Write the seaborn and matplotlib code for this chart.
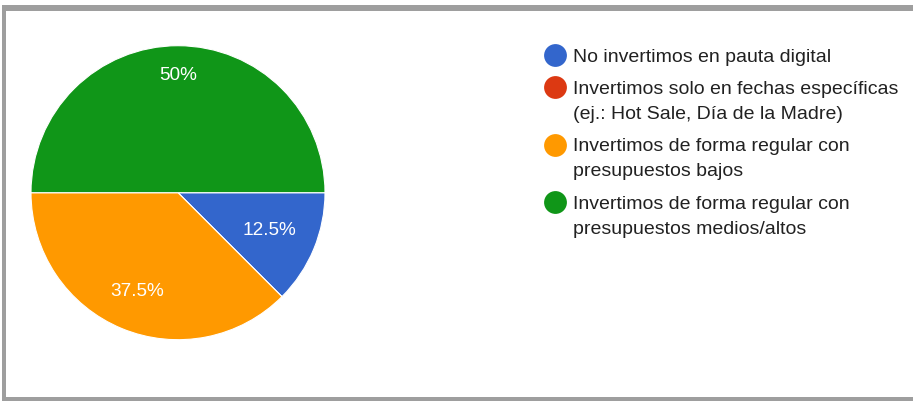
import matplotlib
matplotlib.use("Agg")
import matplotlib.pyplot as plt
from matplotlib.patches import Rectangle
import numpy as np
import seaborn as sns

# Survey answers and their share of responses (%)
categories = [
    "No invertimos en pauta digital",
    "Invertimos solo en fechas específicas\n(ej.: Hot Sale, Día de la Madre)",
    "Invertimos de forma regular con\npresupuestos bajos",
    "Invertimos de forma regular con\npresupuestos medios/altos",
]
shares = [12.5, 0.0, 37.5, 50.0]
colors = ["#3366cc", "#dc3912", "#ff9900", "#109618"]

sns.set_theme(style="white")
plt.rcParams["font.family"] = ["Liberation Sans", "DejaVu Sans"]

W, H = 913, 401
fig = plt.figure(figsize=(W / 100, H / 100), dpi=100)
ax = fig.add_axes([0, 0, 1, 1])
ax.set_xlim(0, W)
ax.set_ylim(0, H)
ax.axis("off")

# Pie (pixel-based coordinates, y up)
cx, cy, r = 178, H - 192.7, 147
wedges, _ = ax.pie(
    shares, colors=colors, startangle=0, counterclock=False,
    center=(cx, cy), radius=r,
    wedgeprops=dict(edgecolor="white", linewidth=0.8),
)
ax.set_xlim(0, W)
ax.set_ylim(0, H)
ax.set_aspect("equal")

# Percentage labels placed along each wedge's mid-angle
label_dist = {0: 0.67, 2: 0.73, 3: 0.80}
for i, (w, v) in enumerate(zip(wedges, shares)):
    if v <= 0:
        continue
    mid = np.deg2rad((w.theta1 + w.theta2) / 2)
    d = label_dist.get(i, 0.7) * r
    ax.text(cx + d * np.cos(mid), cy + d * np.sin(mid), f"{v:g}%",
            color="white", fontsize=13.7, ha="center", va="center")

# Legend with round markers
lx_marker, lx_text = 555, 573
base = 61.7
line_step, item_gap = 25, 7.3
for col, lab in zip(colors, categories):
    lines = lab.split("\n")
    ax.scatter([lx_marker], [H - (base - 6.7)], s=270, color=col, marker="o",
               linewidths=0, zorder=3)
    for k, ln in enumerate(lines):
        ax.text(lx_text, H - (base + k * line_step), ln, fontsize=14,
                color="#212121", ha="left", va="baseline")
    base += len(lines) * line_step + item_gap

# Gray frame
frame = "#9e9e9e"
ax.add_patch(Rectangle((2, H - 11), W - 2, 6, color=frame, lw=0, clip_on=False))
ax.add_patch(Rectangle((2, 0), 4, H - 5, color=frame, lw=0, clip_on=False))
ax.add_patch(Rectangle((2, 0), W - 2, 4.3, color=frame, lw=0, clip_on=False))

fig.savefig("out.png", dpi=100, facecolor="white")
